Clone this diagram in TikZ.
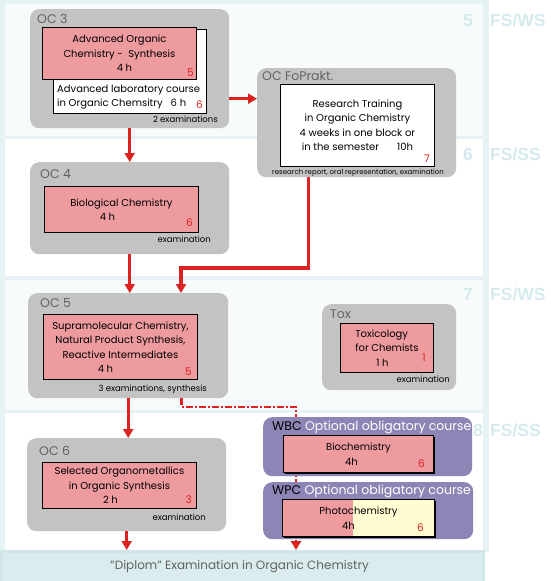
\documentclass[tikz,border=0pt]{standalone}
\usepackage{fontspec}
\setmainfont{Poppins}
\setsansfont{Liberation Sans}
\usetikzlibrary{arrows.meta,shadows}

\definecolor{ocgray}{HTML}{C3C3C3}
\definecolor{ocpink}{HTML}{EE9BA0}
\definecolor{ocred}{HTML}{DD2222}
\definecolor{ocviolet}{HTML}{8C85B5}
\definecolor{ocyellow}{HTML}{FFFCD2}
\definecolor{semframe}{HTML}{E6F3F5}
\definecolor{semband}{HTML}{F7FBFB}
\definecolor{semtext}{HTML}{D5EAEE}
\definecolor{labeltext}{HTML}{626262}
\definecolor{diplomedge}{HTML}{D0E6E9}
\definecolor{diplomfill}{HTML}{DBECEE}

\tikzset{
    module/.style={fill=ocgray,rounded corners=9pt,anchor=north west,inner sep=0pt},
    optmodule/.style={module,fill=ocviolet},
    lecture/.style={fill=ocpink,draw=black,line width=0.9pt,anchor=north west,inner sep=0pt,
        align=center,font=\fontsize{10}{14.5}\selectfont},
    practical/.style={lecture,fill=white},
    modname/.style={anchor=base west,inner sep=0pt,text=labeltext,font=\fontsize{12.5}{14}\selectfont},
    credit/.style={anchor=base east,inner sep=0pt,text=ocred,font=\fontsize{10.5}{12}\selectfont},
    exam/.style={anchor=base east,inner sep=0pt,font=\fontsize{8.5}{10}\selectfont},
    semester/.style={inner sep=0pt,text=semtext,font=\sffamily\bfseries\fontsize{17.5}{20}\selectfont},
    flow/.style={ocred,line width=3.2pt,-{Triangle[width=10pt,length=9pt]}},
    optflow/.style={flow,line width=2.7pt,dash pattern=on 7pt off 2pt on 2pt off 2pt},
    boxshadow/.style={drop shadow={shadow xshift=2pt,shadow yshift=-2pt,fill=black,opacity=1}},
}

\begin{document}
\begin{tikzpicture}[x=1pt,y=-1pt]
    \useasboundingbox (0,0) rectangle (550,581);
    %% semesters
    \fill[semframe] (0,0) rectangle (489,552);
    \fill[semband] (5,4) rectangle (483,136);
    \fill[white] (5,139) rectangle (483,276);
    \fill[semband] (5,280) rectangle (483,410);
    \fill[white] (5,413) rectangle (483,550);
    \foreach \n/\t/\x/\y in {5/WS/468/26,6/SS/468/160,7/WS/468/300,8/SS/478/436}
        {
        \node[semester,anchor=base] (sem\n) at (\x,\y) {\n};
        \node[semester,anchor=base west] (term\n) at (490,\y) {FS/\t};
        }
    %% final examination
    \node[draw=diplomedge,line width=3pt,fill=diplomfill,anchor=north west,inner sep=0pt,
        minimum width=482pt,minimum height=31pt,text=labeltext,
        font=\fontsize{12}{13}\selectfont] (diplom) at (0,550) {"Diplom" Examination in Organic Chemistry\hspace*{6pt}};
    %% OC 3
    \node[module,minimum width=199pt,minimum height=119pt] (oc3) at (30,9) {};
    \node[modname] (oc3name) at (37,23) {OC 3};
    \node[practical,minimum width=153pt,minimum height=84pt] (oc3lab) at (53,29) {};
    \node[anchor=north west,inner sep=0pt,align=left,font=\fontsize{10}{13.5}\selectfont] (oc3labtext) at (57,85)
        {Advanced laboratory course\\in Organic Chemsitry\hspace{8pt}6 h};
    \node[lecture,minimum width=154pt,minimum height=52pt] (oc3lec) at (42,27)
        {Advanced Organic\\Chemistry - \ Synthesis\\\hspace*{10pt}4 h};
    \node[credit] (oc3cr) at (194,76) {5};
    \node[credit] (oc3labcr) at (203,108) {6};
    \node[exam] (oc3exam) at (218,122) {2 examinations};
    %% OC FoPrakt
    \node[module,minimum width=199pt,minimum height=109pt] (fop) at (257,68) {};
    \node[modname] (fopname) at (262,80) {OC FoPrakt.};
    \node[practical,minimum width=154pt,minimum height=82pt] (fopbox) at (280,84)
        {Research Training\\in Organic Chemistry\\4 weeks in one block or\\in the semester\hspace{18pt}10h};
    \node[credit] (fopcr) at (430,162) {7};
    \node[exam,anchor=base,font=\fontsize{7}{8}\selectfont] (fopexam) at (358,174)
        {research report, oral representation, examination};
    %% OC 4
    \node[module,minimum width=199pt,minimum height=92pt] (oc4) at (30,162) {};
    \node[modname] (oc4name) at (40,178) {OC 4};
    \node[lecture,minimum width=154pt,minimum height=46pt] (oc4lec) at (44,186)
        {Biological Chemistry\\4 h\hspace*{28pt}};
    \node[credit] (oc4cr) at (193,226) {6};
    \node[exam] (oc4exam) at (211,242) {examination};
    %% OC 5
    \node[module,minimum width=200pt,minimum height=105pt] (oc5) at (28,293) {};
    \node[modname] (oc5name) at (40,307) {OC 5};
    \node[lecture,minimum width=154pt,minimum height=65pt] (oc5lec) at (43,314)
        {Supramolecular Chemistry,\\Natural Product Synthesis,\\Reactive Intermediates\\4 h\hspace*{30pt}};
    \node[credit] (oc5cr) at (192,375) {5};
    \node[exam] (oc5exam) at (207,391) {3 examinations, synthesis};
    %% Tox
    \node[module,minimum width=134pt,minimum height=86pt] (tox) at (322,304) {};
    \node[modname] (toxname) at (330,318) {Tox};
    \node[lecture,align=left,minimum width=93pt,minimum height=49pt] (toxlec) at (340,323)
        {Toxicology\\for Chemists\\\hspace*{21pt}1 h};
    \node[credit] (toxcr) at (426,361) {1};
    \node[exam] (toxexam) at (450,382) {examination};
    %% OC 6
    \node[module,minimum width=199pt,minimum height=93pt] (oc6) at (27,438) {};
    \node[modname] (oc6name) at (39,455) {OC 6};
    \node[lecture,minimum width=154pt,minimum height=46pt] (oc6lec) at (42,462)
        {Selected Organometallics\\in Organic Synthesis\\2 h\hspace*{18pt}};
    \node[credit] (oc6cr) at (192,503) {3};
    \node[exam] (oc6exam) at (206,520) {examination};
    %% connections
    \draw[flow] (oc3.south) -- (oc3.south |- oc4.north);
    \draw[flow] ([yshift=-30pt]oc3.east) -- ([yshift=-30pt]oc3.east -| fop.west);
    \draw[flow] (oc4.south) -- (oc4.south |- oc5.north);
    \coordinate (fopbend) at (181,268);
    \draw[flow] ([xshift=-48pt]fop.south) |- (fopbend) -- (fopbend |- oc5.north);
    \draw[flow] (oc5.south) -- (oc5.south |- oc6.north);
    \draw[flow] (oc6.south) -- (oc6.south |- diplom.north);
    \coordinate (optbend) at (296,407);
    \draw[optflow] ([xshift=53pt]oc5.south) |- (optbend) -- (optbend |- diplom.north);
    %% optional obligatory courses
    \node[optmodule,minimum width=209pt,minimum height=59pt] (wbc) at (263,417) {};
    \node[modname,text=black] (wbcname) at (272,430) {WBC \textcolor{white}{Optional obligatory course}};
    \node[lecture,boxshadow,minimum width=150pt,minimum height=37pt] (wbclec) at (283,435)
        {Biochemistry\\4h\hspace*{14pt}};
    \node[credit] (wbccr) at (425,467) {6};
    \node[optmodule,minimum width=210pt,minimum height=57pt] (wpc) at (263,482) {};
    \node[modname,text=black] (wpcname) at (272,494) {WPC \textcolor{white}{Optional obligatory course}};
    \node[lecture,boxshadow,fill=ocyellow,minimum width=152pt,minimum height=37pt,
        path picture={\fill[ocpink] (path picture bounding box.north west) rectangle ([xshift=71pt]path picture bounding box.south west);}]
        (wpclec) at (282,499) {Photochemistry\\4h\hspace*{20pt}};
    \node[credit] (wpccr) at (424,531) {6};
\end{tikzpicture}
\end{document}
